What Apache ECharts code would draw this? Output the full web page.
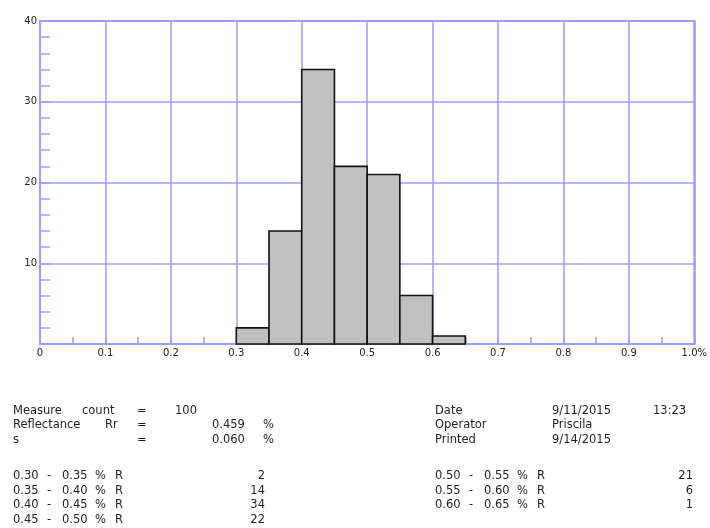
<!DOCTYPE html>
<html>
<head>
<meta charset="utf-8">
<script src="https://cdn.jsdelivr.net/npm/echarts@6/dist/echarts.min.js"></script>
<style>
html,body{margin:0;padding:0;background:#fff;}
#chart{width:710px;height:528px;}
</style>
</head>
<body>
<div id="chart"></div>
<script>
// ---- data ----
const binStarts = [0.30, 0.35, 0.40, 0.45, 0.50, 0.55, 0.60];
const binEnds   = [0.35, 0.40, 0.45, 0.50, 0.55, 0.60, 0.65];
const counts    = [2, 14, 34, 22, 21, 6, 1];
const xTickLabels = ['0', '0.1', '0.2', '0.3', '0.4', '0.5', '0.6', '0.7', '0.8', '0.9', '1.0%'];
const yTickLabels = ['', '10', '20', '30', '40'];
const measureCount = '100';
const reflectance = '0.459';
const stdDev = '0.060';
const dateText = '9/11/2015';
const timeText = '13:23';
const operatorName = 'Priscila';
const printedText = '9/14/2015';

const BLUE = '#9c9cff';
const TXT = '#1e1e1e';
const FONT = '"DejaVu Sans", "Liberation Sans", Arial, sans-serif';

const chart = echarts.init(document.getElementById('chart'));

function t(x, y, text, align) {
  return {
    type: 'text', x: x, y: y,
    style: { text: text, fill: TXT, font: '11.5px ' + FONT, textAlign: align || 'left', textVerticalAlign: 'middle' }
  };
}
const g = [];
// header left
g.push(t(13, 411, 'Measure'), t(82, 411, 'count'), t(137, 411, '='), t(175, 411, measureCount));
g.push(t(13, 425.5, 'Reflectance'), t(105, 425.5, 'Rr'), t(137, 425.5, '='), t(212, 425.5, reflectance), t(263, 425.5, '%'));
g.push(t(13, 440, 's'), t(137, 440, '='), t(212, 440, stdDev), t(263, 440, '%'));
// header right
g.push(t(435, 411, 'Date'), t(552, 411, dateText), t(653, 411, timeText));
g.push(t(435, 425.5, 'Operator'), t(552, 425.5, operatorName));
g.push(t(435, 440, 'Printed'), t(552, 440, printedText));
// bin table
const rowY = [476.5, 491, 505.5, 520];
binStarts.forEach(function (s, i) {
  const left = i < 4;
  const y = left ? rowY[i] : rowY[i - 4];
  const x0 = left ? 13 : 435;
  const xv = left ? 265 : 693;
  g.push(t(x0, y, s.toFixed(2)), t(x0 + 34, y, '-'), t(x0 + 49, y, binEnds[i].toFixed(2)),
         t(x0 + 82, y, '%'), t(x0 + 102, y, 'R'), t(xv, y, String(counts[i]), 'right'));
});

const option = {
  backgroundColor: '#fff',
  animation: false,
  grid: { left: 40, top: 21, right: 13, bottom: 184, show: true, borderColor: BLUE, borderWidth: 2, backgroundColor: '#fff' },
  xAxis: {
    type: 'value', min: 0, max: 1, interval: 0.1,
    axisLine: { show: true, onZero: false, lineStyle: { color: BLUE, width: 2 } },
    axisTick: { show: true, inside: true, length: 7, lineStyle: { color: BLUE, width: 1.5 } },
    minorTick: { show: true, splitNumber: 2, length: 7, lineStyle: { color: BLUE, width: 1.5 } },
    splitLine: { show: true, lineStyle: { color: BLUE, width: 1.5 } },
    axisLabel: {
      color: TXT, fontSize: 10, fontFamily: FONT, margin: 4,
      formatter: function (v) { return xTickLabels[Math.round(v * 10)]; }
    }
  },
  yAxis: {
    type: 'value', min: 0, max: 40, interval: 10,
    axisLine: { show: true, lineStyle: { color: BLUE, width: 2 } },
    axisTick: { show: true, inside: true, length: 10, lineStyle: { color: BLUE, width: 1.5 } },
    minorTick: { show: true, splitNumber: 5, length: 10, lineStyle: { color: BLUE, width: 1.5 } },
    splitLine: { show: true, lineStyle: { color: BLUE, width: 1.5 } },
    axisLabel: {
      color: TXT, fontSize: 10, fontFamily: FONT, margin: 3,
      formatter: function (v) { return yTickLabels[Math.round(v / 10)]; }
    }
  },
  series: [{
    type: 'custom',
    data: binStarts.map(function (s, i) { return [s, binEnds[i], counts[i]]; }),
    encode: { x: [0, 1], y: 2 },
    renderItem: function (params, api) {
      const p0 = api.coord([api.value(0), api.value(2)]);
      const p1 = api.coord([api.value(1), 0]);
      return {
        type: 'rect',
        shape: { x: p0[0], y: p0[1], width: p1[0] - p0[0], height: p1[1] - p0[1] },
        style: { fill: '#c0c0c0', stroke: '#111', lineWidth: 1.6 }
      };
    }
  }],
  graphic: g
};
chart.setOption(option);
</script>
</body>
</html>
